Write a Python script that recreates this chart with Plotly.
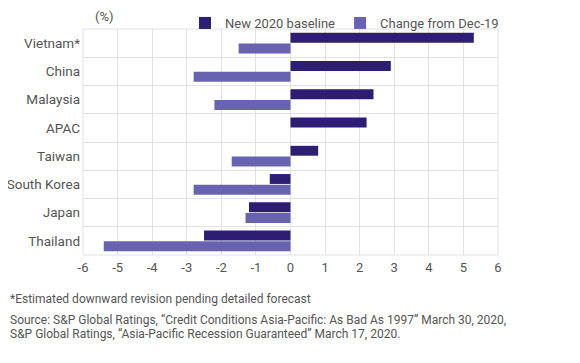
import plotly.graph_objects as go

categories = ["Vietnam*", "China", "Malaysia", "APAC", "Taiwan", "South Korea", "Japan", "Thailand"]
baseline_2020 = [5.3, 2.9, 2.4, 2.2, 0.8, -0.6, -1.2, -2.5]
change_dec19 = [-1.5, -2.8, -2.2, 0.0, -1.7, -2.8, -1.3, -5.4]
x_ticks = [-6, -5, -4, -3, -2, -1, 0, 1, 2, 3, 4, 5, 6]
x_ticktext = ["-6", "-5", "-4", "-3", "-2", "-1", "0", "1", "2", "3", "4", "5", "6"]
footnote = "*Estimated downward revision pending detailed forecast"
source_lines = [
    "Source: S&P Global Ratings, \u201cCredit Conditions Asia-Pacific: As Bad As 1997\u201d March 30, 2020,",
    "S&P Global Ratings, \u201cAsia-Pacific Recession Guaranteed\u201d March 17, 2020.",
]

FONT = "Roboto, Arial, sans-serif"
TXT = "#555555"
# page body has an 8px margin, so the figure is drawn 8px smaller and offset
W, H = 572, 355
L, R, T, B = 75, 82, 21, 108
PW = W - L - R

fig = go.Figure()
fig.add_trace(go.Bar(y=categories, x=baseline_2020, orientation="h",
                     name="New 2020 baseline", marker_color="#2E1D75",
                     marker_line_width=0))
fig.add_trace(go.Bar(y=categories, x=change_dec19, orientation="h",
                     name="Change from Dec-19", marker_color="#6763B1",
                     marker_line_width=0))

fig.update_layout(
    width=W, height=H,
    margin=dict(l=L, r=R, t=T, b=B, autoexpand=False),
    paper_bgcolor="white", plot_bgcolor="white",
    barmode="group", bargap=0.24, bargroupgap=0.08,
    font=dict(family=FONT, size=13, color=TXT),
    showlegend=True,
    legend=dict(orientation="h", xref="container", yref="container",
                x=(L + PW + 6) / W, xanchor="right", y=1 - 0 / H, yanchor="top",
                font=dict(size=13, color=TXT), bgcolor="rgba(0,0,0,0)",
                traceorder="normal", itemwidth=30, tracegroupgap=0),
    xaxis=dict(range=[-6, 6], tickvals=x_ticks, ticktext=x_ticktext,
               showgrid=True, gridcolor="#E2E2E6", gridwidth=1, automargin=False,
               zeroline=False, showline=False, ticks="", fixedrange=True,
               ticklabelstandoff=3,
               tickfont=dict(size=13, color=TXT)),
    yaxis=dict(autorange="reversed", type="category", tickson="boundaries",
               showgrid=True, gridcolor="#E2E2E6", gridwidth=1, automargin=False,
               ticks="", showline=False, zeroline=False, ticklabelstandoff=2,
               tickfont=dict(size=13.5, color=TXT)),
)

fig.add_shape(type="rect", xref="paper", yref="paper", x0=0, x1=1, y0=0, y1=1,
              line=dict(color="#E2E2E6", width=1), layer="below")

fig.add_annotation(text="(%)", xref="paper", yref="paper", x=10 / PW, y=1.0,
                   xanchor="left", yanchor="bottom", showarrow=False,
                   font=dict(size=13, color=TXT), yshift=3)
fig.add_annotation(text=footnote, xref="paper", yref="paper", x=-L / PW, y=0,
                   xanchor="left", yanchor="middle", yshift=-44, showarrow=False,
                   align="left", font=dict(size=12, color=TXT))
for i, line in enumerate(source_lines):
    fig.add_annotation(text=line, xref="paper", yref="paper", x=-L / PW, y=0,
                       xanchor="left", yanchor="middle", yshift=-65 - 13.5 * i,
                       showarrow=False, align="left", font=dict(size=12, color=TXT))

fig.write_html("out.html")
